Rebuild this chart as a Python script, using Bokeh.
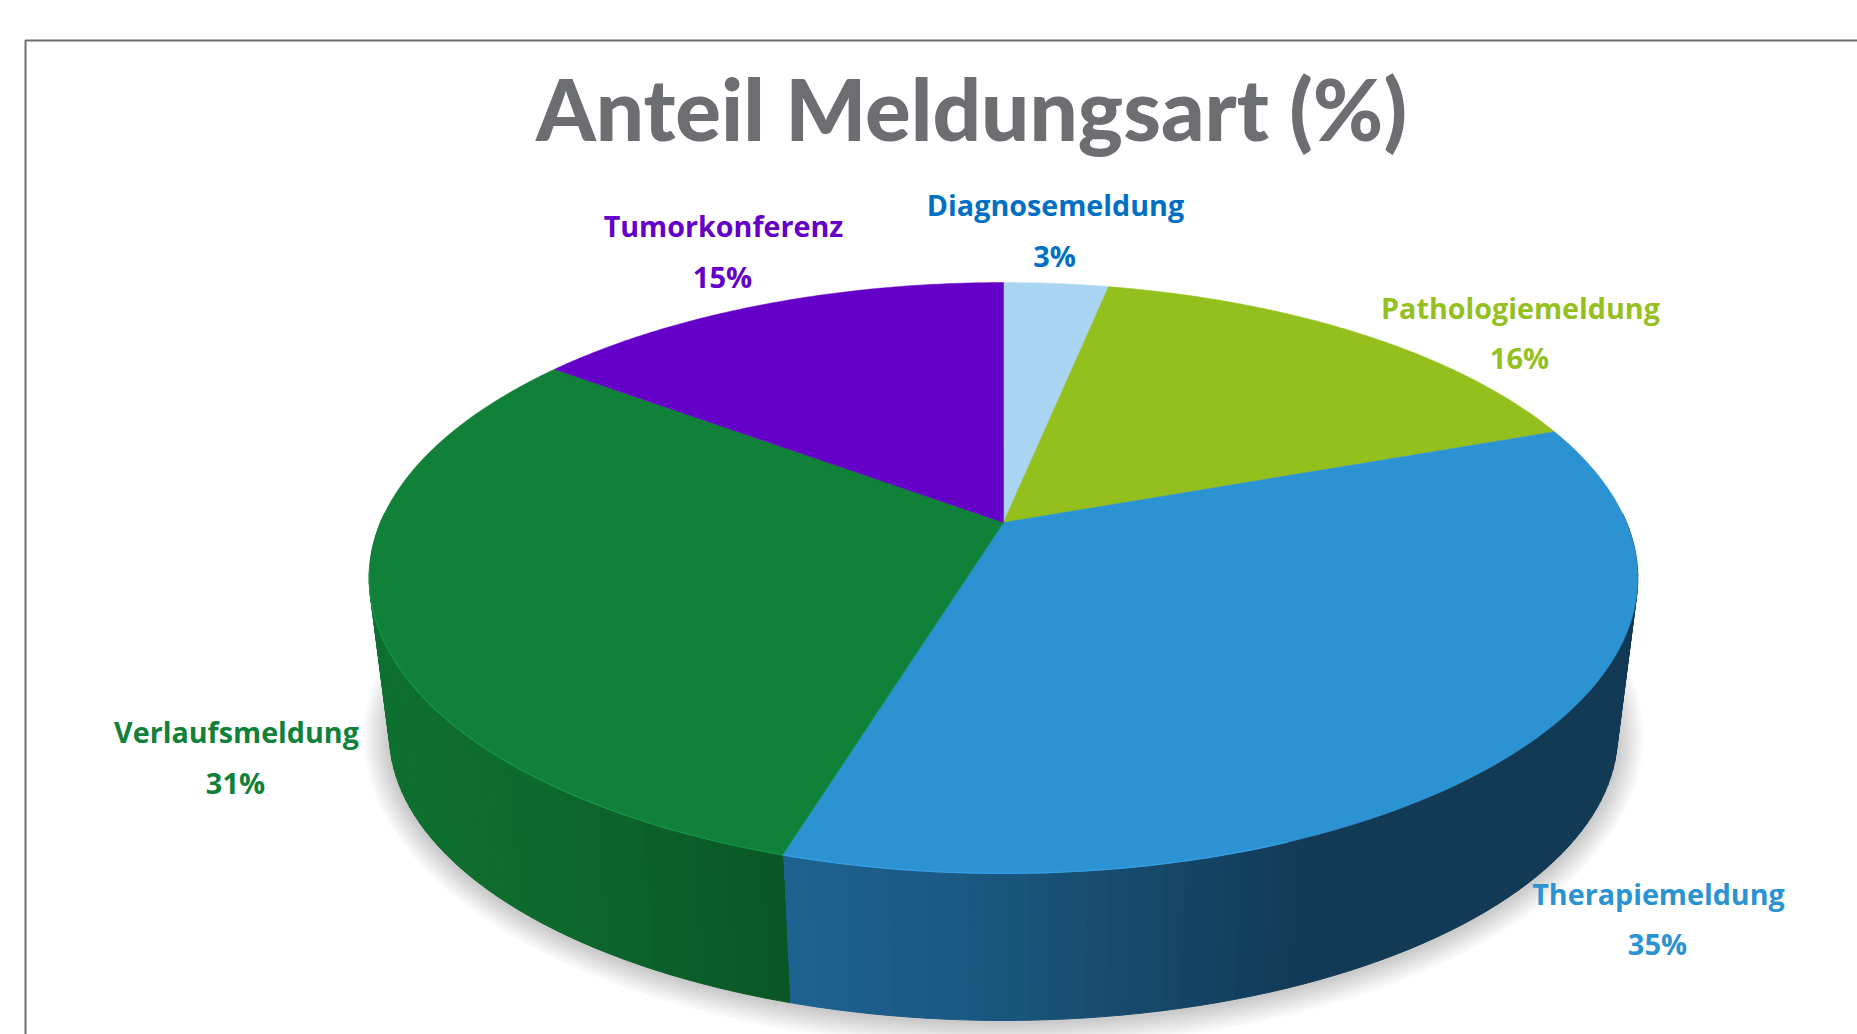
import numpy as np
from bokeh.plotting import figure
from bokeh.models import ColumnDataSource, Range1d
from bokeh.core.properties import value
from bokeh.embed import file_html
from bokeh.resources import INLINE

# ---- data ----
categories = ["Diagnosemeldung", "Pathologiemeldung", "Therapiemeldung", "Verlaufsmeldung", "Tumorkonferenz"]
shares = [3.2, 16.3, 35.2, 30.5, 14.8]
percent_labels = ["3%", "16%", "35%", "31%", "15%"]
title_text = "Anteil Meldungsart (%)"

# ---- styles ----
top_colors = ["#A9D5F3", "#94C01E", "#2C93D3", "#118139", "#6400C8"]
label_colors = ["#0070C4", "#94C11F", "#2C93D3", "#118139", "#6400C8"]
rim_colors = [None, None, "#3AA3EC", "#169A48", None]
name_pos = [(1055, 204), (1520, 307), (1658, 893), (236, 731), (723, 225)]
pct_pos = [(1054, 255), (1519, 357), (1657, 943), (235, 782), (722, 276)]

W, H = 1857, 1034
CX, CY, A, B, K = 1003.0, 522.0, 623.0, 285.0, 0.1878
S, VY = 0.968, 5469.0


def project(theta_deg):
    t = np.radians(theta_deg)
    w = 1 + K * np.cos(t)
    return CX + A * np.sin(t) / w, CY - B * np.cos(t) / w


def lower(x, y):
    return CX + S * (x - CX), VY + S * (y - VY)


def wall_color(x, kind):
    if kind == "green":
        stops = [(390, (14, 112, 48)), (500, (14, 108, 47)), (620, (12, 100, 44)), (789, (10, 86, 37))]
    else:
        stops = [(783, (30, 99, 145)), (950, (27, 90, 132)), (1100, (24, 77, 112)),
                 (1250, (19, 63, 94)), (1310, (19, 58, 85)), (1650, (19, 58, 85))]
    xs = [s[0] for s in stops]
    rgb = [int(np.interp(x, xs, [s[1][i] for s in stops])) for i in range(3)]
    return "#%02x%02x%02x" % tuple(rgb)


edges = np.concatenate([[0], np.cumsum(shares)]) / sum(shares) * 360.0

p = figure(width=W, height=H, output_backend="svg", toolbar_location=None,
           x_range=Range1d(0, W), y_range=Range1d(H, 0),
           min_border=0, outline_line_color=None, background_fill_color="white",
           border_fill_color="white")
p.xaxis.visible = False
p.yaxis.visible = False
p.grid.visible = False

# frame of the chart area
p.line([25, 25, W], [H, 40, 40], line_color="#6E6E6E", line_width=2)

# soft shadow beneath the body
th = np.linspace(0, 360, 241)
for grow in np.linspace(26, 2, 13):
    x0, y0 = lower(*project(th))
    sx = CX + (x0 - CX) * (1 + grow / 610)
    sy = y0 + (y0 - 735) * (grow / 285) + 2
    p.patch(sx, sy, fill_color="#000000", fill_alpha=0.014, line_color=None)

# side wall, drawn as thin quads shaded along x
qx, qy, qc = [], [], []
for i, kind in [(2, "blue"), (3, "green")]:
    ang = np.arange(edges[i], edges[i + 1] + 0.01, 1.5)
    ang = ang[(ang > 88) & (ang < 272)]
    if i == 2:
        ang = np.append(ang, edges[3])
    else:
        ang = np.insert(ang, 0, edges[3])
    for a0, a1 in zip(ang[:-1], ang[1:]):
        xa, ya = project(a0)
        xb, yb = project(a1)
        xc, yc = lower(xb, yb)
        xd, yd = lower(xa, ya)
        qx.append([xa, xb, xc, xd])
        qy.append([ya, yb, yc, yd])
        qc.append(wall_color((xa + xb + xc + xd) / 4, kind))
p.patches("x", "y", source=ColumnDataSource(dict(x=qx, y=qy, c=qc)),
          fill_color="c", line_color="c", line_width=1)

# top face
fx, fy = [], []
for i in range(len(shares)):
    ang = np.linspace(edges[i], edges[i + 1], 120)
    x, y = project(ang)
    fx.append([CX] + list(x))
    fy.append([CY] + list(y))
p.patches("x", "y", source=ColumnDataSource(dict(x=fx, y=fy, c=top_colors, name=categories)),
          fill_color="c", line_color="c", line_width=0.5)

# highlight along the front rim
for i, c in enumerate(rim_colors):
    if c is None:
        continue
    ang = np.linspace(edges[i], edges[i + 1], 160)
    ang = ang[ang < 262]
    x, y = project(ang)
    keep = x < 1290
    p.line(x[keep], y[keep], line_color=c, line_width=1.2, line_alpha=0.9)

# texts
p.text([971], [107], text=[title_text], text_font=value("Lato Black"), text_font_style="normal",
       text_font_size="85.3px", text_color="#6D6E71", text_align="center", text_baseline="middle")
p.text([q[0] for q in name_pos], [q[1] for q in name_pos], text=categories,
       text_font=value("Open Sans"), text_font_style="bold", text_font_size="28.7px",
       text_color=label_colors, text_align="center", text_baseline="middle")
p.text([q[0] for q in pct_pos], [q[1] for q in pct_pos], text=percent_labels,
       text_font=value("Open Sans"), text_font_style="bold", text_font_size="29px",
       text_color=label_colors, text_align="center", text_baseline="middle")

open("out.html", "w").write(file_html(p, INLINE))
